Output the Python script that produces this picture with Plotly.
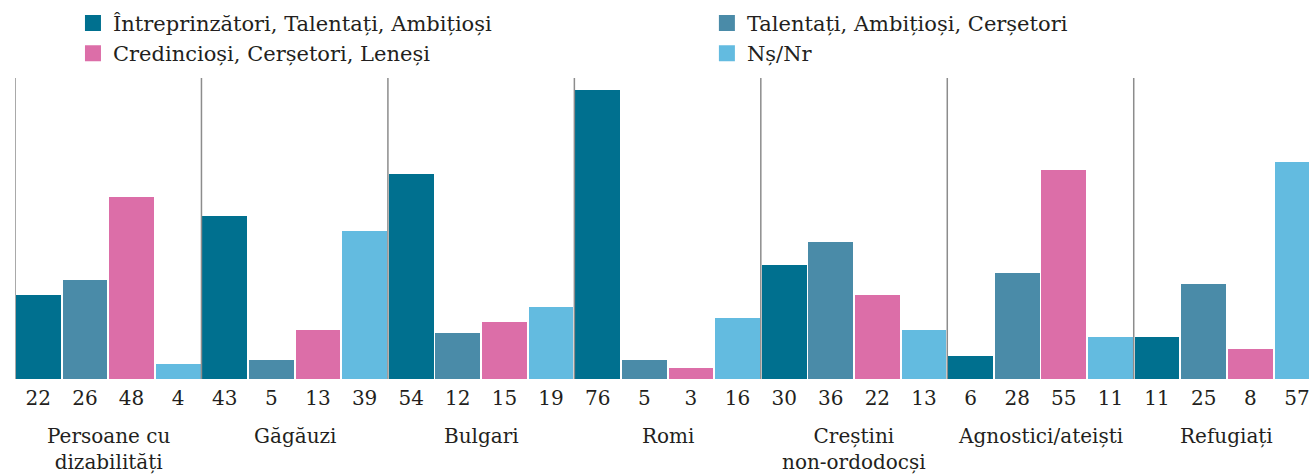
import plotly.graph_objects as go

groups = ["Persoane cu<br>dizabilități", "Găgăuzi", "Bulgari", "Romi",
          "Creștini<br>non-ordodocși", "Agnostici/ateiști", "Refugiați"]
series_names = ["Întreprinzători, Talentați, Ambițioși",
                "Talentați, Ambițioși, Cerșetori",
                "Credincioși, Cerșetori, Leneși",
                "Nș/Nr"]
s1 = [22, 43, 54, 76, 30, 6, 11]
s2 = [26, 5, 12, 5, 36, 28, 25]
s3 = [48, 13, 15, 3, 22, 55, 8]
s4 = [4, 39, 19, 16, 13, 11, 57]
colors = ["#00708f", "#4a8ba8", "#dc6ea8", "#63bbe0"]
legend_ids = ["legend", "legend2", "legend", "legend2"]

series = [s1, s2, s3, s4]
n_s = len(series)
FONT = "DejaVu Serif"
TXT = "#231f20"

fig = go.Figure()
tickvals, ticktext = [], []
for j, (name, vals, col, lg) in enumerate(zip(series_names, series, colors, legend_ids)):
    xs = [i * n_s + j + 0.5 for i in range(len(groups))]
    fig.add_trace(go.Bar(x=xs, y=vals, width=0.96, marker_color=col,
                         marker_line_width=0, showlegend=False, name=name))
    tickvals += xs
    ticktext += [str(v) for v in vals]
    fig.add_trace(go.Scatter(x=[None], y=[None], mode="markers", name=name,
                             legend=lg,
                             marker=dict(symbol="square", size=17, color=col)))

for i in range(len(groups)):
    fig.add_shape(type="line", xref="x", yref="paper", x0=i * n_s, x1=i * n_s,
                  y0=0, y1=1, line=dict(color="#8c8c8c", width=1.5))
    fig.add_annotation(x=i * n_s + n_s / 2, xref="x", yref="paper", y=-0.143,
                       yanchor="top", text=groups[i], showarrow=False,
                       font=dict(family=FONT, size=20, color=TXT))

legend_common = dict(orientation="v", y=1.25, yanchor="top", xanchor="left",
                     font=dict(family=FONT, size=21, color=TXT),
                     itemwidth=30, bgcolor="rgba(0,0,0,0)")

fig.update_layout(
    width=1309, height=476,
    margin=dict(l=15, r=0, t=78, b=97),
    plot_bgcolor="white", paper_bgcolor="white",
    bargap=0,
    font=dict(family=FONT, size=20, color=TXT),
    xaxis=dict(range=[0, 27.76], tickvals=tickvals, ticktext=ticktext,
               showgrid=False, zeroline=False, showline=False, ticks="",
               ticklabelstandoff=5, automargin=False, ticklabeloverflow="allow",
               tickfont=dict(family=FONT, size=20, color=TXT)),
    yaxis=dict(range=[0, 79.2], visible=False),
    legend=dict(x=0.0448, **legend_common),
    legend2=dict(x=0.5347, **legend_common),
)

fig.write_html("out.html", post_script="document.body.style.margin='0';",
               config={"displayModeBar": False})
